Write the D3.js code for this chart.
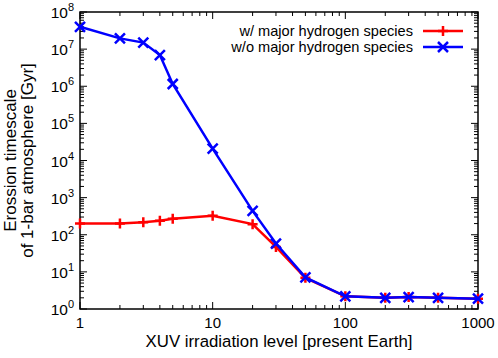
<!DOCTYPE html>
<html>
<head>
<meta charset="utf-8">
<script src="https://cdn.jsdelivr.net/npm/d3@7"></script>
<style>
  body { margin: 0; background: #fff; }
  svg { font-family: "Liberation Sans", Arial, sans-serif; }
</style>
</head>
<body>
<div id="chart"></div>
<script>
// XUV irradiation level [present Earth]
var xuv = [1, 2, 3, 4, 5, 10, 20, 30, 50, 100, 200, 300, 500, 1000];
// erosion timescale [Gyr]
var withH = [202, 200, 218, 237, 270, 323, 193, 47, 6.9, 2.2, 2.0, 2.1, 2.0, 1.9];
var withoutH = [4.0e7, 1.95e7, 1.5e7, 6.9e6, 1.15e6, 2.1e4, 440, 58, 7.1, 2.2, 2.0, 2.1, 2.0, 1.9];
var seriesNames = ["w/ major hydrogen species", "w/o major hydrogen species"];
var xTicks = [1, 10, 100, 1000];
var yTicks = [0, 1, 2, 3, 4, 5, 6, 7, 8]; // exponents

var width = 498, height = 358;
var margin = { top: 12, right: 20, bottom: 49, left: 80 };

var svg = d3.select("#chart").append("svg")
  .attr("width", width)
  .attr("height", height);

var x = d3.scaleLog()
  .domain([1, 1000])
  .range([margin.left, width - margin.right]);

var y = d3.scaleLog()
  .domain([1, 1e8])
  .range([height - margin.bottom, margin.top]);

var x0 = x.range()[0], x1 = x.range()[1];
var y0 = y.range()[0], y1 = y.range()[1];

// minor tick values
var xMinor = [];
for (var d = 1; d < 1000; d *= 10) {
  for (var k = 2; k <= 9; k++) xMinor.push(d * k);
}
var yMinor = [];
for (var e = 0; e < 8; e++) {
  for (var k = 2; k <= 9; k++) yMinor.push(Math.pow(10, e) * k);
}

var ticks = svg.append("g").attr("stroke", "#000").attr("stroke-width", 1);

// x ticks, bottom and top, pointing inward
xTicks.forEach(function (v) {
  ticks.append("line").attr("x1", x(v)).attr("x2", x(v)).attr("y1", y0).attr("y2", y0 - 7);
  ticks.append("line").attr("x1", x(v)).attr("x2", x(v)).attr("y1", y1).attr("y2", y1 + 7);
});
xMinor.forEach(function (v) {
  ticks.append("line").attr("x1", x(v)).attr("x2", x(v)).attr("y1", y0).attr("y2", y0 - 4);
  ticks.append("line").attr("x1", x(v)).attr("x2", x(v)).attr("y1", y1).attr("y2", y1 + 4);
});
// y ticks, left and right
yTicks.forEach(function (p) {
  var v = Math.pow(10, p);
  ticks.append("line").attr("x1", x0).attr("x2", x0 + 7).attr("y1", y(v)).attr("y2", y(v));
  ticks.append("line").attr("x1", x1).attr("x2", x1 - 7).attr("y1", y(v)).attr("y2", y(v));
});
yMinor.forEach(function (v) {
  ticks.append("line").attr("x1", x0).attr("x2", x0 + 4).attr("y1", y(v)).attr("y2", y(v));
  ticks.append("line").attr("x1", x1).attr("x2", x1 - 4).attr("y1", y(v)).attr("y2", y(v));
});

// frame
svg.append("rect")
  .attr("x", x0).attr("y", y1)
  .attr("width", x1 - x0).attr("height", y0 - y1)
  .attr("fill", "none").attr("stroke", "#000").attr("stroke-width", 1.5);

// x tick labels
svg.append("g").selectAll("text")
  .data(xTicks)
  .join("text")
  .attr("x", (d) => x(d))
  .attr("y", y0 + 19)
  .attr("text-anchor", "middle")
  .attr("font-size", 15)
  .text((d) => d);

// y tick labels as 10^n
var yl = svg.append("g").selectAll("text")
  .data(yTicks)
  .join("text")
  .attr("x", x0 - 6)
  .attr("y", (d) => y(Math.pow(10, d)) + 6)
  .attr("text-anchor", "end")
  .attr("font-size", 15.5);
yl.append("tspan").text("10");
yl.append("tspan").attr("dy", -7).attr("font-size", 11).text((d) => d);

// axis titles
svg.append("text")
  .attr("x", (x0 + x1) / 2)
  .attr("y", 347)
  .attr("text-anchor", "middle")
  .attr("font-size", 16.8)
  .text("XUV irradiation level [present Earth]");

svg.append("text")
  .attr("transform", "translate(15.5," + ((y0 + y1) / 2) + ") rotate(-90)")
  .attr("text-anchor", "middle")
  .attr("font-size", 17)
  .text("Erossion timescale");
svg.append("text")
  .attr("transform", "translate(33," + ((y0 + y1) / 2) + ") rotate(-90)")
  .attr("text-anchor", "middle")
  .attr("font-size", 17)
  .text("of 1-bar atmosphere [Gyr]");

var line = d3.line()
  .x((d) => x(d[0]))
  .y((d) => y(d[1]));

function drawSeries(vals, color, marker) {
  var pts = xuv.map((v, i) => [v, vals[i]]);
  svg.append("path")
    .datum(pts)
    .attr("fill", "none")
    .attr("stroke", color)
    .attr("stroke-width", 2.5)
    .attr("d", line);
  var s = 5;
  var g = svg.append("g").attr("stroke", color).attr("stroke-width", 2.5);
  pts.forEach(function (p) {
    var cx = x(p[0]), cy = y(p[1]);
    if (marker == "plus") {
      g.append("path").attr("d", `M${cx - s},${cy}H${cx + s}M${cx},${cy - s}V${cy + s}`);
    } else {
      g.append("path").attr("d", `M${cx - s},${cy - s}L${cx + s},${cy + s}M${cx - s},${cy + s}L${cx + s},${cy - s}`);
    }
  });
}

drawSeries(withH, "#ff0000", "plus");
drawSeries(withoutH, "#0000ff", "cross");

// legend
var legend = svg.append("g");
[["#ff0000", "plus"], ["#0000ff", "cross"]].forEach(function (c, i) {
  var ly = 31 + i * 16;
  legend.append("text")
    .attr("x", 413)
    .attr("y", ly + 5.2)
    .attr("text-anchor", "end")
    .attr("font-size", 14.6)
    .text(seriesNames[i]);
  legend.append("line")
    .attr("x1", 423).attr("x2", 463)
    .attr("y1", ly).attr("y2", ly)
    .attr("stroke", c[0]).attr("stroke-width", 2.5);
  var cx = 443, s = 5;
  var d = c[1] == "plus"
    ? `M${cx - s},${ly}H${cx + s}M${cx},${ly - s}V${ly + s}`
    : `M${cx - s},${ly - s}L${cx + s},${ly + s}M${cx - s},${ly + s}L${cx + s},${ly - s}`;
  legend.append("path").attr("d", d).attr("stroke", c[0]).attr("stroke-width", 2.5);
});
</script>
</body>
</html>
